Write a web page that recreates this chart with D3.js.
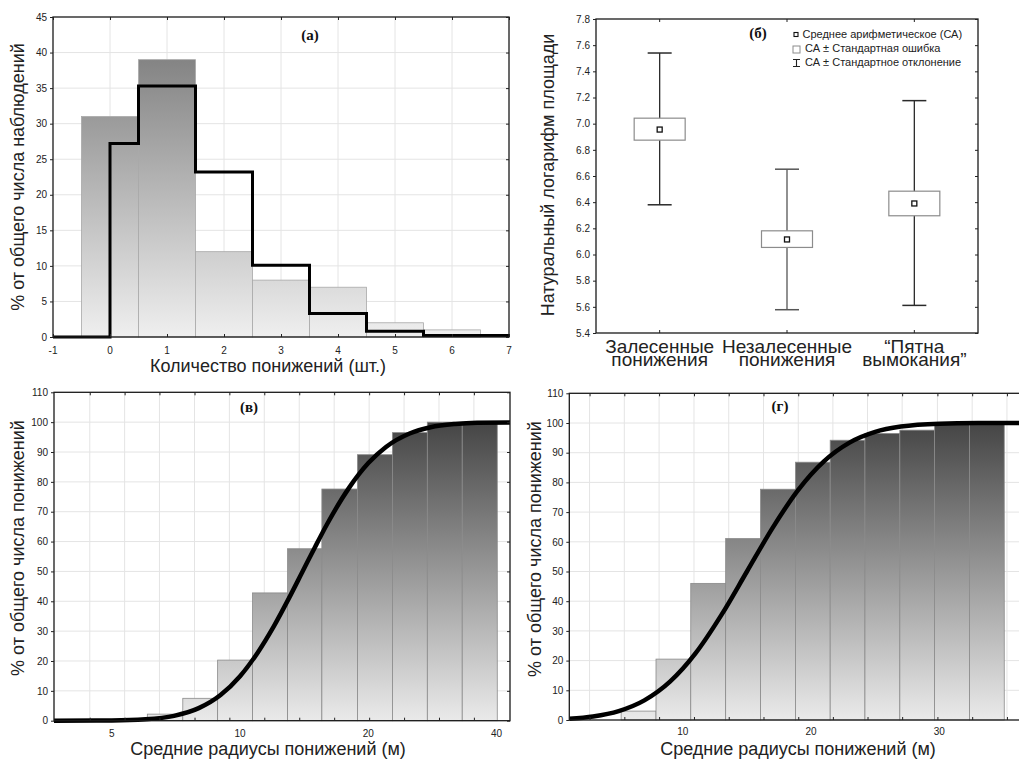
<!DOCTYPE html>
<html>
<head>
<meta charset="utf-8">
<script src="https://cdn.jsdelivr.net/npm/d3@7"></script>
<style>
body { margin: 0; background: #fff; }
text { font-family: "Liberation Sans", Arial, sans-serif; fill: #222; }
.title { font-family: "Liberation Serif", "Times New Roman", serif; font-weight: bold; font-size: 15px; fill: #111; }
.tick text { font-size: 10px; fill: #222; }
.tick line { stroke: #222; }
</style>
</head>
<body>
<script>
// (а) number of depressions - histogram + expected step line
var countCats = [0, 1, 2, 3, 4, 5, 6];
var countPct = [31, 39, 12, 8, 7, 2, 1];
var stepX = [-1, 0, 0.5, 1.5, 2.5, 3.5, 4.5, 5.5, 7];
var stepY = [0, 27.2, 35.3, 23.2, 10.1, 3.3, 0.8, 0.2, 0.2];

// (б) ln(area) by group
var groups = [["Залесенные", "понижения"], ["Незалесенные", "понижения"], ["“Пятна", "вымокания”"]];
var means = [6.955, 6.115, 6.39];
var seLow = [6.874, 6.054, 6.296];
var seHigh = [7.042, 6.181, 6.484];
var sdLow = [6.38, 5.578, 5.611];
var sdHigh = [7.54, 6.652, 7.176];
var legendText = ["Среднее арифметическое (СА)", "СА ± Стандартная ошибка", "СА ± Стандартное отклонение"];

// (в) cumulative radii, log axis
var edgesV = [6.06, 7.34, 8.86, 10.70, 12.93, 15.56, 18.86, 22.78, 27.51, 33.22, 40.14];
var cumV = [2.2, 7.5, 20.3, 42.8, 57.6, 77.6, 89.1, 96.5, 100, 100];
var gridV = [4.44, 5.36, 6.47, 7.82, 9.44, 11.40, 13.77, 16.63, 20.09, 24.26, 29.30, 35.38];
var tickLabelsV = [5, 10, 20, 40];
var curveV = [[3.66, 0], [5, 0.08], [6, 0.45], [7, 1.6], [8, 4.2], [9, 8.6], [10, 14.9], [11, 22.8], [12, 31.6],
  [13, 40.8], [14, 49.8], [15, 58.2], [16, 65.8], [18, 77.9], [20, 86.3], [22, 91.7], [25, 96.2], [28, 98.3],
  [32, 99.4], [36, 99.8], [43, 99.9]];

// (г) cumulative radii, linear axis
var edgesG = [5.19, 7.91, 10.62, 13.34, 16.06, 18.78, 21.49, 24.2, 26.92, 29.63, 32.35, 35.06];
var cumG = [3.0, 20.5, 46.0, 61.1, 77.7, 86.8, 94.2, 96.5, 97.6, 100, 100];
var gridG = [2.73, 5.44, 8.15, 10.87, 13.58, 16.29, 19.0, 21.7, 24.4, 27.1, 29.85, 32.56, 35.27];
var tickLabelsG = [10, 20, 30];
var curveG = [[1.15, 0.45], [3, 1.2], [5, 3.0], [7, 6.6], [9, 12.9], [11, 22.5], [13, 35.3], [15, 50], [17, 64.7],
  [19, 77.5], [21, 87.1], [23, 93.4], [25, 97.0], [27, 98.8], [30, 99.77], [33, 99.97], [37, 100]];

var pctTicks = d3.range(0, 111, 10);

var svg = d3.select("body").append("svg")
    .attr("width", 1019)
    .attr("height", 760);
var defs = svg.append("defs");

function gradient(id, yTop, yBottom, cTop, cBottom) {
  var g = defs.append("linearGradient").attr("id", id)
      .attr("gradientUnits", "userSpaceOnUse")
      .attr("x1", 0).attr("x2", 0).attr("y1", yTop).attr("y2", yBottom);
  g.append("stop").attr("offset", 0).attr("stop-color", cTop);
  g.append("stop").attr("offset", 1).attr("stop-color", cBottom);
}

function hGrid(g, x, y, vals) {
  g.append("g").selectAll("line").data(vals).enter().append("line")
    .attr("x1", x.range()[0]).attr("x2", x.range()[1])
    .attr("y1", d => y(d)).attr("y2", d => y(d))
    .attr("stroke", "#e4e4e4");
}
function vGrid(g, x, y, vals) {
  g.append("g").selectAll("line").data(vals).enter().append("line")
    .attr("x1", d => x(d)).attr("x2", d => x(d))
    .attr("y1", y.range()[0]).attr("y2", y.range()[1])
    .attr("stroke", "#e4e4e4");
}
function frame(g, x, y) {
  var r = x.range(), t = y.range();
  g.append("rect")
    .attr("x", r[0]).attr("y", t[1])
    .attr("width", r[1] - r[0]).attr("height", t[0] - t[1])
    .attr("fill", "none").attr("stroke", "#1a1a1a").attr("stroke-width", 1.3);
}
function yAxes(g, x, y, vals, fmt) {
  var left = g.append("g").attr("transform", "translate(" + x.range()[0] + ",0)")
    .call(d3.axisLeft(y).tickValues(vals).tickSize(3).tickPadding(3).tickFormat(fmt));
  left.select(".domain").remove();
  var right = g.append("g").attr("transform", "translate(" + x.range()[1] + ",0)")
    .call(d3.axisLeft(y).tickValues(vals).tickSize(3).tickFormat(""));
  right.select(".domain").remove();
}
function xTicks(g, x, y, vals) {
  var b = g.append("g").attr("transform", "translate(0," + y.range()[0] + ")")
    .call(d3.axisBottom(x).tickValues(vals).tickSize(-3).tickFormat(""));
  b.select(".domain").remove();
  var t = g.append("g").attr("transform", "translate(0," + y.range()[1] + ")")
    .call(d3.axisTop(x).tickValues(vals).tickSize(-3).tickFormat(""));
  t.select(".domain").remove();
}
function yLabel(g, text, x, y) {
  g.append("text").attr("transform", "translate(" + x + "," + y + ") rotate(-90)")
    .attr("text-anchor", "middle").style("font-size", "18px").text(text);
}

// ---------- (а) ----------
var xa = d3.scaleLinear().domain([-1, 7]).range([53, 509]);
var ya = d3.scaleLinear().domain([0, 45]).range([337, 17]);
var ga = svg.append("g");
gradient("gradA", ya(39), ya(0), "#848484", "#efefef");
hGrid(ga, xa, ya, d3.range(5, 45, 5));
vGrid(ga, xa, ya, d3.range(0, 7));
ga.append("g").selectAll("rect").data(countCats).enter().append("rect")
  .attr("x", d => xa(d - 0.5))
  .attr("width", xa(1) - xa(0))
  .attr("y", (d, i) => ya(countPct[i]))
  .attr("height", (d, i) => ya(0) - ya(countPct[i]))
  .attr("fill", "url(#gradA)")
  .attr("stroke", "#a8a8a8").attr("stroke-width", 0.8);
var stepPts = stepX.map((d, i) => [d, stepY[i]]);
ga.append("path").datum(stepPts)
  .attr("d", d3.line().x(d => xa(d[0])).y(d => ya(d[1])).curve(d3.curveStepAfter))
  .attr("fill", "none").attr("stroke", "#000").attr("stroke-width", 3);
frame(ga, xa, ya);
yAxes(ga, xa, ya, d3.range(0, 46, 5), d3.format("d"));
xTicks(ga, xa, ya, d3.range(-1, 8));
ga.append("g").selectAll("text").data(d3.range(-1, 8)).enter().append("text")
  .attr("x", d => xa(d)).attr("y", 354).attr("text-anchor", "middle")
  .style("font-size", "10px").text(d => d);
ga.append("text").attr("class", "title").attr("x", 310).attr("y", 40)
  .attr("text-anchor", "middle").text("(а)");
ga.append("text").attr("x", 268).attr("y", 372).attr("text-anchor", "middle")
  .style("font-size", "18px").text("Количество понижений (шт.)");
yLabel(ga, "% от общего числа наблюдений", 24, 177);

// ---------- (б) ----------
var xb = d3.scaleBand().domain(d3.range(groups.length)).range([596, 978]);
var yb = d3.scaleLinear().domain([5.4, 7.8]).range([333, 19]);
var gb = svg.append("g");
var cx = i => xb(i) + xb.bandwidth() / 2;
var whiskerColor = ["#2a2a2a", "#555", "#2a2a2a"];
var grp = gb.append("g").selectAll("g").data(groups).enter().append("g");
grp.append("line")
  .attr("x1", (d, i) => cx(i)).attr("x2", (d, i) => cx(i))
  .attr("y1", (d, i) => yb(sdHigh[i])).attr("y2", (d, i) => yb(sdLow[i]))
  .attr("stroke", (d, i) => whiskerColor[i]).attr("stroke-width", 1.3);
[sdHigh, sdLow].forEach(function (arr) {
  grp.append("line")
    .attr("x1", (d, i) => cx(i) - 12).attr("x2", (d, i) => cx(i) + 12)
    .attr("y1", (d, i) => yb(arr[i])).attr("y2", (d, i) => yb(arr[i]))
    .attr("stroke", (d, i) => whiskerColor[i]).attr("stroke-width", 1.5);
});
grp.append("rect")
  .attr("x", (d, i) => cx(i) - 25.5).attr("width", 51)
  .attr("y", (d, i) => yb(seHigh[i]))
  .attr("height", (d, i) => yb(seLow[i]) - yb(seHigh[i]))
  .attr("fill", "#fff").attr("stroke", "#8c8c8c").attr("stroke-width", 1.2);
grp.append("rect")
  .attr("x", (d, i) => cx(i) - 2.5).attr("width", 5)
  .attr("y", (d, i) => yb(means[i]) - 2.5).attr("height", 5)
  .attr("fill", "#fff").attr("stroke", "#111").attr("stroke-width", 1.3);
frame(gb, xb, yb);
yAxes(gb, xb, yb, d3.range(5.4, 7.81, 0.2), d3.format(".1f"));
gb.selectAll(".tick text").style("font-size", "10px");
var catTicks = gb.append("g").selectAll("g").data(groups).enter();
catTicks.append("line").attr("x1", (d, i) => cx(i)).attr("x2", (d, i) => cx(i))
  .attr("y1", yb.range()[0]).attr("y2", yb.range()[0] - 3).attr("stroke", "#222");
catTicks.append("line").attr("x1", (d, i) => cx(i)).attr("x2", (d, i) => cx(i))
  .attr("y1", yb.range()[1]).attr("y2", yb.range()[1] + 3).attr("stroke", "#222");
var catLab = gb.append("g").selectAll("text").data(groups).enter().append("text")
  .attr("text-anchor", "middle").style("font-size", "19px");
catLab.append("tspan").attr("x", (d, i) => cx(i)).attr("y", 353).text(d => d[0]);
catLab.append("tspan").attr("x", (d, i) => cx(i)).attr("y", 366).text(d => d[1]);
gb.append("text").attr("class", "title").attr("x", 758).attr("y", 38)
  .attr("text-anchor", "middle").text("(б)");
yLabel(gb, "Натуральный логарифм площади", 554, 175);
// legend
var lg = gb.append("g").attr("transform", "translate(793,0)");
lg.append("rect").attr("x", 1).attr("y", 32.5).attr("width", 4).attr("height", 4)
  .attr("fill", "#fff").attr("stroke", "#111").attr("stroke-width", 1.1);
lg.append("rect").attr("x", 0).attr("y", 46).attr("width", 7).attr("height", 7)
  .attr("fill", "#fff").attr("stroke", "#8c8c8c");
lg.append("path").attr("d", "M0,59.5H7M3.5,59.5V66.5M0,66.5H7")
  .attr("fill", "none").attr("stroke", "#222").attr("stroke-width", 1.1);
lg.selectAll("text.leg").data(legendText).enter().append("text")
  .attr("class", "leg")
  .attr("x", (d, i) => i === 0 ? 9.5 : 12)
  .attr("y", (d, i) => 38 + i * 14)
  .style("font-size", "11px").text(d => d);

// ---------- (в) ----------
var xv = d3.scaleLog().domain([3.66, 43]).range([54, 510]);
var yv = d3.scaleLinear().domain([0, 110]).range([720.7, 392.3]);
var gv = svg.append("g");
gradient("gradV", yv(100), yv(0), "#454545", "#eaeaea");
hGrid(gv, xv, yv, d3.range(10, 110, 10));
vGrid(gv, xv, yv, gridV);
gv.append("g").selectAll("rect").data(cumV).enter().append("rect")
  .attr("x", (d, i) => xv(edgesV[i]))
  .attr("width", (d, i) => xv(edgesV[i + 1]) - xv(edgesV[i]))
  .attr("y", d => yv(d))
  .attr("height", d => yv(0) - yv(d))
  .attr("fill", "url(#gradV)")
  .attr("stroke", "#8a8a8a").attr("stroke-width", 0.8);
gv.append("path").datum(curveV)
  .attr("d", d3.line().x(d => xv(d[0])).y(d => yv(d[1])).curve(d3.curveMonotoneX))
  .attr("fill", "none").attr("stroke", "#000").attr("stroke-width", 4.5)
  .attr("stroke-linecap", "butt");
frame(gv, xv, yv);
yAxes(gv, xv, yv, pctTicks, d3.format("d"));
xTicks(gv, xv, yv, gridV);
gv.append("g").selectAll("text").data(tickLabelsV).enter().append("text")
  .attr("x", d => xv(d)).attr("y", 737).attr("text-anchor", "middle")
  .style("font-size", "10px").text(d => d);
gv.append("text").attr("class", "title").attr("x", 249).attr("y", 412)
  .attr("text-anchor", "middle").text("(в)");
gv.append("text").attr("x", 268).attr("y", 755).attr("text-anchor", "middle")
  .style("font-size", "18px").text("Средние радиусы понижений (м)");
yLabel(gv, "% от общего числа понижений", 24, 548);

// ---------- (г) ----------
var xg = d3.scaleLinear().domain([1.15, 36.6]).range([569.3, 1024]);
var yg = d3.scaleLinear().domain([0, 110]).range([720, 393.3]);
var gg = svg.append("g");
gradient("gradG", yg(100), yg(0), "#454545", "#eaeaea");
hGrid(gg, xg, yg, d3.range(10, 110, 10));
vGrid(gg, xg, yg, gridG);
gg.append("g").selectAll("rect").data(cumG).enter().append("rect")
  .attr("x", (d, i) => xg(edgesG[i]))
  .attr("width", (d, i) => xg(edgesG[i + 1]) - xg(edgesG[i]))
  .attr("y", d => yg(d))
  .attr("height", d => yg(0) - yg(d))
  .attr("fill", "url(#gradG)")
  .attr("stroke", "#8a8a8a").attr("stroke-width", 0.8);
gg.append("path").datum(curveG)
  .attr("d", d3.line().x(d => xg(d[0])).y(d => yg(d[1])).curve(d3.curveMonotoneX))
  .attr("fill", "none").attr("stroke", "#000").attr("stroke-width", 4.5);
frame(gg, xg, yg);
yAxes(gg, xg, yg, pctTicks, d3.format("d"));
xTicks(gg, xg, yg, gridG);
gg.append("g").selectAll("text").data(tickLabelsG).enter().append("text")
  .attr("x", d => xg(d)).attr("y", 735).attr("text-anchor", "middle")
  .style("font-size", "10px").text(d => d);
gg.append("text").attr("class", "title").attr("x", 780).attr("y", 411)
  .attr("text-anchor", "middle").text("(г)");
gg.append("text").attr("x", 798).attr("y", 755).attr("text-anchor", "middle")
  .style("font-size", "18px").text("Средние радиусы понижений (м)");
yLabel(gg, "% от общего числа понижений", 541, 549);
</script>
</body>
</html>
